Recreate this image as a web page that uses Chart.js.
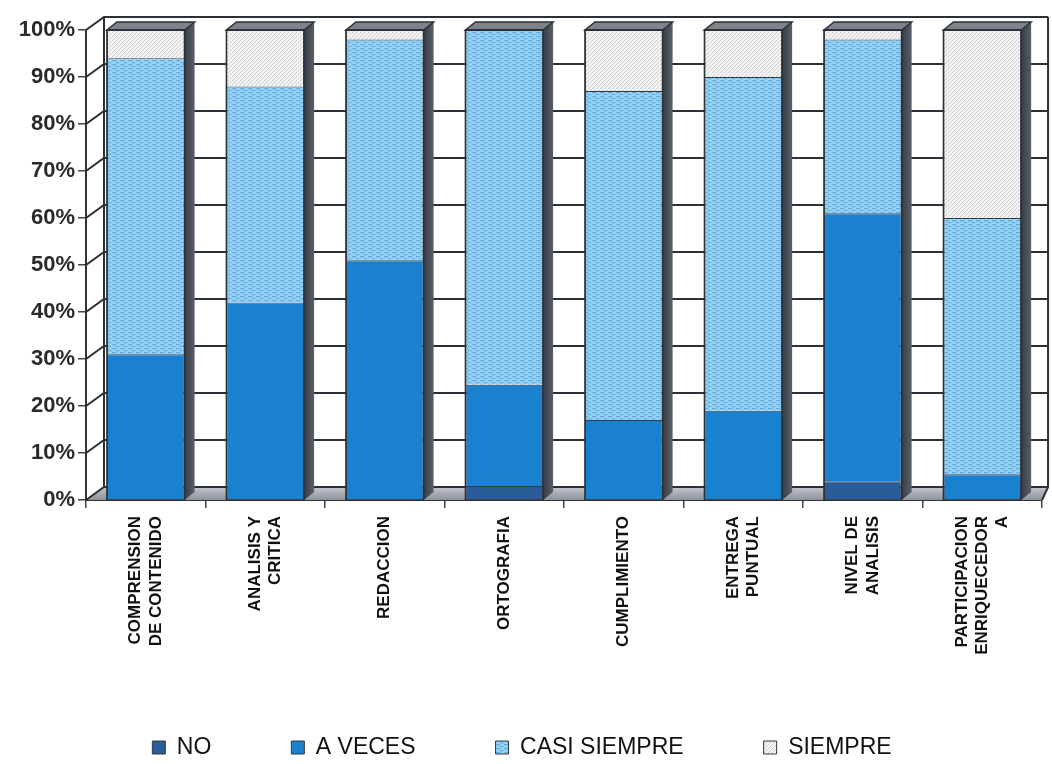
<!DOCTYPE html>
<html>
<head>
<meta charset="utf-8">
<script src="https://cdn.jsdelivr.net/npm/chart.js@4.4.0/dist/chart.umd.min.js"></script>
<style>
  html, body { margin: 0; background: #fff; }
  #wrap { width: 1052px; height: 764px; }
</style>
</head>
<body>
<div id="wrap"><canvas id="grafico"></canvas></div>
<script>
const categorias = [
  ['COMPRENSION', 'DE CONTENIDO'],
  ['ANALISIS Y', 'CRITICA'],
  'REDACCION',
  'ORTOGRAFIA',
  'CUMPLIMIENTO',
  ['ENTREGA', 'PUNTUAL'],
  ['NIVEL DE', 'ANALISIS'],
  ['PARTICIPACION', 'ENRIQUECEDOR', 'A']
];
const serieNo      = [0, 0, 0, 3, 0, 0, 4, 0];
const serieAVeces  = [31, 42, 51, 21.5, 17, 19, 57, 5.5];
const serieCasi    = [63, 46, 47, 75.5, 70, 71, 37, 54.5];
const serieSiempre = [6, 12, 2, 0, 13, 10, 2, 40];
const marcasY = [0, 10, 20, 30, 40, 50, 60, 70, 80, 90, 100];

// profundidad del fondo (pared y piso) y de las barras
const DX = 18, DY = -13, DXR = 6;
const SX = 10, SY = -8;
const ALTO_LINEA = 17 * 1.2;

Chart.defaults.font.family = "'Liberation Sans', Arial, sans-serif";

// texturas de relleno tipo Excel
function trama(w, h, base, puntos) {
  const c = document.createElement('canvas');
  c.width = w; c.height = h;
  const g = c.getContext('2d');
  g.fillStyle = base;
  g.fillRect(0, 0, w, h);
  puntos.forEach(([x, y, pw, ph, col]) => { g.fillStyle = col; g.fillRect(x, y, pw, ph); });
  return g.createPattern(c, 'repeat');
}
const ctx = document.getElementById('grafico').getContext('2d');
const tramaCasi = trama(8, 4, '#8ecdf2', [
  [0, 0, 4, 1, '#5fa9de'], [4, 2, 3, 1, '#66afe2'], [1, 3, 1, 1, '#b8e4fa'], [6, 0, 1, 1, '#b8e4fa']
]);
const tramaSiempre = trama(4, 4, '#f3f3f3', [
  [0, 0, 1, 1, '#c6c6c6'], [2, 2, 1, 1, '#c6c6c6'], [3, 1, 1, 1, '#dcdcdc'], [1, 3, 1, 1, '#dcdcdc']
]);

const fondo3d = {
  id: 'fondo3d',
  beforeDatasetsDraw(chart) {
    const { ctx, chartArea: a, scales: { y } } = chart;
    const y0 = y.getPixelForValue(0);
    const y100 = y.getPixelForValue(100);
    ctx.save();
    // piso
    const piso = ctx.createLinearGradient(0, y0 + DY, 0, y0);
    piso.addColorStop(0, '#c4c7cc');
    piso.addColorStop(1, '#8d9299');
    ctx.fillStyle = piso;
    ctx.beginPath();
    ctx.moveTo(a.left, y0);
    ctx.lineTo(a.left + DX, y0 + DY);
    ctx.lineTo(a.right + DXR, y0 + DY);
    ctx.lineTo(a.right, y0);
    ctx.closePath();
    ctx.fill();
    // lineas de division en la pared lateral y la pared del fondo
    ctx.strokeStyle = '#2b2f36';
    ctx.lineWidth = 2;
    marcasY.forEach(v => {
      const py = y.getPixelForValue(v);
      ctx.beginPath();
      ctx.moveTo(a.left, py);
      ctx.lineTo(a.left + DX, py + DY);
      ctx.lineTo(a.right + DXR, py + DY);
      ctx.stroke();
    });
    ctx.beginPath();
    ctx.moveTo(a.left + DX, y100 + DY);
    ctx.lineTo(a.left + DX, y0 + DY);
    ctx.moveTo(a.right + DXR, y100 + DY);
    ctx.lineTo(a.right + DXR, y0 + DY);
    ctx.lineTo(a.right, y0);
    ctx.stroke();
    ctx.restore();
  },
  afterDatasetsDraw(chart) {
    const { ctx, scales: { y } } = chart;
    const base = y.getPixelForValue(0);
    const ultimo = chart.getDatasetMeta(chart.data.datasets.length - 1);
    ctx.save();
    ultimo.data.forEach(el => {
      const { x, y: tope, width } = el.getProps(['x', 'y', 'width'], true);
      const izq = x - width / 2, der = x + width / 2;
      // cara lateral
      const lado = ctx.createLinearGradient(der, 0, der + SX, 0);
      lado.addColorStop(0, '#363b45');
      lado.addColorStop(1, '#59606a');
      ctx.fillStyle = lado;
      ctx.beginPath();
      ctx.moveTo(der, tope);
      ctx.lineTo(der + SX, tope + SY);
      ctx.lineTo(der + SX, base + SY);
      ctx.lineTo(der, base);
      ctx.closePath();
      ctx.fill();
      // cara superior
      ctx.fillStyle = '#7d828b';
      ctx.strokeStyle = '#2b2f36';
      ctx.lineWidth = 1.5;
      ctx.beginPath();
      ctx.moveTo(izq, tope);
      ctx.lineTo(izq + SX, tope + SY);
      ctx.lineTo(der + SX, tope + SY);
      ctx.lineTo(der, tope);
      ctx.closePath();
      ctx.fill();
      ctx.stroke();
      ctx.strokeRect(izq, tope, width, base - tope);
    });
    ctx.restore();
  }
};

// centra las etiquetas de varias lineas sobre su categoria
function centrarEtiquetas(s) {
  if (s._centrado) return;
  const calcular = s._computeLabelItems;
  s._computeLabelItems = function (area) {
    const items = calcular.call(this, area);
    items.forEach(it => {
      const n = Array.isArray(it.label) ? it.label.length : 1;
      it.options.translation[0] -= (n - 1) * ALTO_LINEA / 2;
    });
    return items;
  };
  s._centrado = true;
}

new Chart(ctx, {
  type: 'bar',
  data: {
    labels: categorias,
    datasets: [
      { label: 'NO', data: serieNo, backgroundColor: '#2a5c9a' },
      { label: 'A VECES', data: serieAVeces, backgroundColor: '#1a80d0' },
      { label: 'CASI SIEMPRE', data: serieCasi, backgroundColor: tramaCasi },
      { label: 'SIEMPRE', data: serieSiempre, backgroundColor: tramaSiempre }
    ].map(d => Object.assign(d, {
      borderColor: '#333a44', borderWidth: 1, barPercentage: 0.65, categoryPercentage: 1
    }))
  },
  options: {
    responsive: true,
    maintainAspectRatio: false,
    animation: false,
    layout: { padding: { top: 30, right: 8, bottom: 0, left: 0 } },
    scales: {
      x: {
        stacked: true,
        grid: { drawOnChartArea: false, color: '#444', lineWidth: 1.5, tickLength: 8 },
        border: { color: '#333', width: 2 },
        ticks: {
          minRotation: 90, maxRotation: 90, autoSkip: false, padding: 8,
          color: '#111', font: { size: 17, weight: 'bold', lineHeight: 1.2 }
        },
        afterFit: s => { s.height = 156; centrarEtiquetas(s); }
      },
      y: {
        stacked: true, min: 0, max: 100,
        grid: { drawOnChartArea: false, color: '#444', lineWidth: 1.5, tickLength: 8 },
        border: { color: '#333', width: 2 },
        ticks: {
          stepSize: 10, padding: 3, color: '#2a2a2a',
          font: { size: 22, weight: 'bold' },
          callback: v => v + '%'
        },
        afterFit: s => { s.width = 86; }
      }
    },
    plugins: {
      tooltip: { enabled: false },
      legend: {
        position: 'bottom',
        maxHeight: 108,
        labels: {
          color: '#111', boxWidth: 13, boxHeight: 13, padding: 80,
          font: { size: 23 }
        }
      }
    }
  },
  plugins: [fondo3d]
});
</script>
</body>
</html>
